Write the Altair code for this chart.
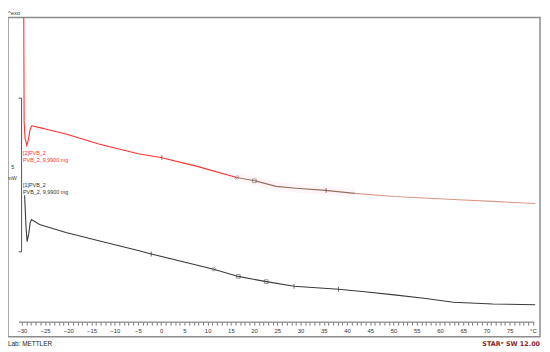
import altair as alt
import pandas as pd

# ---- data (temperature in °C, heat flow in mW) ----
red_T = [-29.58, -29.5, -29.3, -28.92, -28.6, -28.2, -27.86, -26.17, -24.74, -20.5, -13.44,
         -4.96, -0.08, 7.76, 16.24, 20.48, 24.72, 28.97, 35.33, 41.69, 50.17, 62.89, 71.37, 80.49]
red_mW = [10.6, 7.0, 6.45, 6.22, 6.4, 6.75, 6.86, 6.80, 6.75, 6.59, 6.27,
          5.95, 5.83, 5.54, 5.18, 5.06, 4.89, 4.83, 4.76, 4.66, 4.56, 4.46, 4.40, 4.33]

black_T = [-29.4, -29.1, -28.86, -28.5, -28.2, -27.93, -26.17, -20.5, -13.44, -4.96, -2.14,
           11.30, 16.60, 22.60, 28.60, 38.15, 43.81, 50.17, 56.53, 62.89, 71.37, 80.49]
black_mW = [4.6, 3.6, 3.09, 3.35, 3.7, 3.81, 3.65, 3.39, 3.12, 2.80, 2.69,
            2.19, 1.96, 1.79, 1.64, 1.54, 1.46, 1.36, 1.25, 1.12, 1.06, 1.04]

red_tick_T = [0.13, 35.5]
red_tick_mW = [5.83, 4.76]
red_x_T = [16.24]
red_x_mW = [5.18]
red_sq_T = [20.06]
red_sq_mW = [5.07]

black_tick_T = [-2.14, 28.6, 38.15]
black_tick_mW = [2.69, 1.64, 1.54]
black_x_T = [11.3]
black_x_mW = [2.19]
black_sq_T = [16.6, 22.6]
black_sq_mW = [1.96, 1.79]

tick_values = list(range(-30, 81))
scale_bar_T = -30.05
scale_bar_low = 2.76
scale_bar_mW = 5

red_label = ["[2]PVB_2", "PVB_2, 9,9900 mg"]
black_label = ["[1]PVB_2", "PVB_2, 9,9900 mg"]

# ---- scales ----
xs = alt.Scale(domain=[-32.97, 81.53], nice=False, zero=False)
ys = alt.Scale(domain=[0, 10.385], nice=False, zero=False)
x_axis = alt.Axis(
    values=tick_values, title=None, domain=False, grid=False, offset=-14.7,
    tickSize=3, tickColor="#555", tickWidth=0.8, labelFontSize=6, labelColor="#333",
    labelFont="Liberation Sans", labelPadding=2, labelOverlap=False, labelFlush=False,
    labelExpr="datum.value == 80 ? '°C' : (datum.value % 5 == 0 ? datum.label : '')",
)
X = alt.X("T:Q", scale=xs, axis=x_axis)
Y = alt.Y("mW:Q", scale=ys, axis=None)

red = pd.DataFrame({"T": red_T, "mW": red_mW})
black = pd.DataFrame({"T": black_T, "mW": black_mW})

def pts(T, m):
    return pd.DataFrame({"T": T, "mW": m})

band = alt.Chart(red).transform_filter("datum.T >= 15.5 && datum.T <= 49").mark_line(
    strokeWidth=9, color="#ffd0e2", opacity=0.22).encode(x=X, y=Y)
redA = alt.Chart(red).transform_filter("datum.T <= 16.24").mark_line(
    color="#ff3030", strokeWidth=1.1, clip=True).encode(x=X, y=Y)
redB = alt.Chart(red).transform_filter("datum.T >= 16.24 && datum.T <= 41.69").mark_line(
    color="#957060", strokeWidth=1.1).encode(x=X, y=Y)
redC = alt.Chart(red).transform_filter("datum.T >= 41.69").mark_line(
    color="#d8998a", strokeWidth=1.1).encode(x=X, y=Y)
blk = alt.Chart(black).mark_line(color="#3a3a3a", strokeWidth=1.1).encode(x=X, y=Y)

ticks_r = alt.Chart(pts(red_tick_T, red_tick_mW)).mark_tick(
    orient="vertical", size=5, thickness=1, color="#7a3030").encode(x=X, y=Y)
ticks_b = alt.Chart(pts(black_tick_T, black_tick_mW)).mark_tick(
    orient="vertical", size=5, thickness=1, color="#333").encode(x=X, y=Y)
x_r = alt.Chart(pts(red_x_T, red_x_mW)).mark_point(
    shape="cross", angle=45, size=14, filled=False, strokeWidth=0.8, color="#6a5a50").encode(x=X, y=Y)
x_b = alt.Chart(pts(black_x_T, black_x_mW)).mark_point(
    shape="cross", angle=45, size=14, filled=False, strokeWidth=0.8, color="#555").encode(x=X, y=Y)
sq_r = alt.Chart(pts(red_sq_T, red_sq_mW)).mark_point(
    shape="square", size=14, filled=False, strokeWidth=0.8, color="#6a5a50").encode(x=X, y=Y)
sq_b = alt.Chart(pts(black_sq_T, black_sq_mW)).mark_point(
    shape="square", size=14, filled=False, strokeWidth=0.8, color="#444").encode(x=X, y=Y)

bar_df = pd.DataFrame({"T": [scale_bar_T], "lo": [scale_bar_low], "hi": [scale_bar_low + scale_bar_mW]})
bar_v = alt.Chart(bar_df).mark_rule(color="#555", strokeWidth=1).encode(
    x=X, y=alt.Y("lo:Q", scale=ys, axis=None), y2="hi:Q")
bar_h = alt.Chart(pd.DataFrame({"T": [scale_bar_T - 0.65] * 2, "T2": [scale_bar_T] * 2,
                                "mW": [scale_bar_low, scale_bar_low + scale_bar_mW]})).mark_rule(
    color="#555", strokeWidth=1).encode(x=X, x2="T2:Q", y=Y)
bar_txt = alt.Chart(pd.DataFrame({"T": [-31.95, -32.1], "mW": [5.51, 5.16], "t": ["5", "mW"]})).mark_text(
    fontSize=5.5, font="Liberation Sans", color="#333", align="center", baseline="middle").encode(
    x=X, y=Y, text="t:N")

lab_df = pd.DataFrame({"T": [-29.75] * 4, "mW": [5.98, 5.74, 4.94, 4.69],
                       "t": red_label + black_label, "c": ["r", "r", "k", "k"]})
labels = alt.Chart(lab_df).mark_text(
    fontSize=5.5, font="Liberation Sans", align="left", baseline="middle").encode(
    x=X, y=Y, text="t:N",
    color=alt.Color("c:N", scale=alt.Scale(domain=["r", "k"], range=["#ff3030", "#333333"]), legend=None))

base_df = pd.DataFrame({"T": [-30.6], "T2": [80.3]})
baseline = alt.Chart(base_df).mark_rule(color="#555", strokeWidth=0.9).encode(
    x=X, x2="T2:Q", y=alt.value(309.3))

exo = alt.Chart(pd.DataFrame({"t": ["^exo"]})).mark_text(
    fontSize=6, font="Liberation Sans", color="#333", align="left", baseline="bottom").encode(
    text="t:N", x=alt.value(0), y=alt.value(-1))
lab = alt.Chart(pd.DataFrame({"t": ["Lab: METTLER"]})).mark_text(
    fontSize=6.5, font="Liberation Sans", color="#222", align="left", baseline="middle").encode(
    text="t:N", x=alt.value(0), y=alt.value(331))
star = alt.Chart(pd.DataFrame({"t": ["STARᵉ SW 12.00"]})).mark_text(
    fontSize=6.5, font="DejaVu Sans", fontWeight="bold", color="#8b1f1f", align="right", baseline="middle").encode(
    text="t:N", x=alt.value(540), y=alt.value(331))

chart = alt.layer(
    band, redA, redB, redC, blk, ticks_r, ticks_b, x_r, x_b, sq_r, sq_b,
    bar_v, bar_h, bar_txt, labels, baseline, exo, lab, star
).properties(
    width=540, height=324, autosize="none",
    padding={"top": 7, "left": 0, "right": 2, "bottom": 13},
).configure_view(stroke="#8c8c8c", strokeWidth=1.5)

chart.save("out.html", embed_options={"renderer": "svg", "actions": False})
